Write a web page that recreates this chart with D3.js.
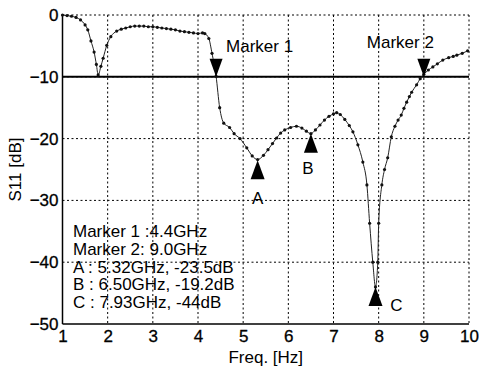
<!DOCTYPE html>
<html><head><meta charset="utf-8">
<script src="https://cdn.jsdelivr.net/npm/d3@7"></script>
<style>
body{margin:0;background:#fff;}
svg text{font-family:"Liberation Sans",Arial,sans-serif;fill:#000;}
</style></head>
<body><svg id="c" width="479" height="368"></svg>
<script>
const freq = [1.0,1.1,1.2,1.3,1.4,1.5,1.56,1.63,1.70,1.75,1.79,1.85,1.90,1.98,2.07,2.2,2.3,2.4,2.5,2.6,2.7,2.8,2.9,3.0,3.1,3.2,3.3,3.4,3.5,3.6,3.7,3.8,3.9,4.0,4.1,4.15,4.24,4.31,4.4,4.48,4.57,4.7,4.8,4.93,5.08,5.2,5.32,5.45,5.55,5.65,5.74,5.83,5.92,6.05,6.18,6.3,6.4,6.5,6.6,6.7,6.8,6.9,7.0,7.07,7.15,7.25,7.35,7.43,7.54,7.65,7.74,7.8,7.87,7.93,7.98,8.0,8.07,8.13,8.2,8.28,8.36,8.43,8.5,8.56,8.62,8.68,8.73,8.84,8.92,9.0,9.1,9.2,9.3,9.42,9.55,9.65,9.73,9.85,9.97];
const s11 = [0,-0.1,-0.2,-0.4,-0.8,-1.6,-2.4,-4.2,-6.0,-8.0,-9.7,-8.3,-7.0,-4.9,-3.5,-2.6,-2.3,-2.1,-1.9,-1.8,-1.8,-1.8,-1.9,-1.9,-2.0,-2.1,-2.2,-2.3,-2.4,-2.6,-2.7,-2.8,-2.9,-3.0,-2.9,-3.0,-3.8,-6.2,-9.9,-15.0,-17.5,-18.2,-19.2,-20.0,-21.5,-22.8,-23.4,-22.7,-21.8,-20.8,-19.9,-19.1,-18.6,-18.2,-18.0,-18.3,-18.8,-19.2,-18.6,-17.8,-17.0,-16.4,-16.0,-15.8,-16.1,-16.9,-17.9,-18.9,-21.0,-23.8,-27.5,-33.7,-40,-44,-40,-33.7,-27.5,-25,-23.1,-19.7,-18.0,-17.0,-16.2,-15.1,-14.1,-13.2,-12.5,-11.3,-10.3,-9.6,-8.9,-8.4,-7.9,-7.3,-6.9,-6.7,-6.5,-6.2,-5.8];
const xTicks = [1,2,3,4,5,6,7,8,9,10];
const yTicks = [0,-10,-20,-30,-40,-50];
const threshold = -10;
const markerDown = [{name:"Marker 1", f:4.4}, {name:"Marker 2", f:9.0}];
const markerUp = [{name:"A", f:5.32, v:-23.5}, {name:"B", f:6.50, v:-19.2}, {name:"C", f:7.93, v:-44}];
const infoLines = ["Marker 1 :4.4GHz","Marker 2: 9.0GHz","A : 5.32GHz, -23.5dB","B : 6.50GHz, -19.2dB","C : 7.93GHz, -44dB"];

const svg = d3.select("#c");
const x = d3.scaleLinear().domain([1,10]).range([62.5,469]);
const y = d3.scaleLinear().domain([0,-50]).range([15,324]);

// grid
const g = svg.append("g");
g.selectAll("line.vg").data(xTicks.slice(1)).join("line")
  .attr("x1",d=>x(d)).attr("x2",d=>x(d)).attr("y1",y(0)).attr("y2",y(-50))
  .attr("stroke","#000").attr("stroke-width",1).attr("stroke-dasharray","2,2.5");
g.selectAll("line.hg").data(yTicks.slice(0,-1)).join("line")
  .attr("x1",x(1)).attr("x2",x(10)).attr("y1",d=>y(d)).attr("y2",d=>y(d))
  .attr("stroke","#000").attr("stroke-width",1).attr("stroke-dasharray","2,2.5");

// axes
const fs = 17;
const xa = svg.append("g").attr("transform",`translate(0,${y(-50)})`)
  .call(d3.axisBottom(x).tickValues(xTicks).tickSize(0).tickPadding(6).tickFormat(d3.format("d")));
const ya = svg.append("g").attr("transform",`translate(${x(1)},0)`)
  .call(d3.axisLeft(y).tickValues(yTicks).tickSize(0).tickPadding(4).tickFormat(d3.format("d")));
[xa,ya].forEach(a=>{
  a.select(".domain").remove();
  a.selectAll("text").attr("font-size",fs).attr("font-family","Liberation Sans, Arial, sans-serif").attr("fill","#000")
    .attr("stroke","#000").attr("stroke-width",0.3);
});
svg.append("line").attr("x1",x(1)).attr("x2",x(10)).attr("y1",y(-50)).attr("y2",y(-50)).attr("stroke","#000").attr("stroke-width",1.5);
svg.append("line").attr("x1",x(1)).attr("x2",x(1)).attr("y1",y(0)).attr("y2",y(-50)).attr("stroke","#000").attr("stroke-width",1.5);

// threshold
svg.append("line").attr("x1",x(1)).attr("x2",x(10)).attr("y1",y(threshold)).attr("y2",y(threshold))
  .attr("stroke","#000").attr("stroke-width",2);

// curve
const data = freq.map((f,i)=>({f, v:s11[i]}));
svg.append("path").datum(data)
  .attr("d",d3.line().x(d=>x(d.f)).y(d=>y(d.v)).curve(d3.curveMonotoneX))
  .attr("fill","none").attr("stroke","#222").attr("stroke-width",1);
svg.selectAll("circle.pt").data(data).join("circle")
  .attr("cx",d=>x(d.f)).attr("cy",d=>y(d.v)).attr("r",1.6).attr("fill","#111");

// markers down
const mg = svg.append("g");
markerDown.forEach((m,i)=>{
  const cx = x(m.f), ty = y(threshold);
  mg.append("path").attr("d",`M${cx-6.5},${ty-18}L${cx+6.5},${ty-18}L${cx},${ty}Z`).attr("fill","#000");
});
svg.append("text").attr("x",x(4.4)+10).attr("y",52).attr("font-size",fs).text(markerDown[0].name);
svg.append("text").attr("x",x(9.0)-57).attr("y",48).attr("font-size",fs).text(markerDown[1].name);

// markers up
markerUp.forEach(m=>{
  const cx = x(m.f), ty = y(m.v);
  mg.append("path").attr("d",`M${cx-7},${ty+19}L${cx+7},${ty+19}L${cx},${ty}Z`).attr("fill","#000");
});
const lab = [{dx:0,dy:44,a:"middle"},{dx:-3,dy:40,a:"middle"},{dx:21,dy:24,a:"middle"}];
markerUp.forEach((m,i)=>{
  svg.append("text").attr("x",x(m.f)+lab[i].dx).attr("y",y(m.v)+lab[i].dy)
    .attr("text-anchor",lab[i].a).attr("font-size",fs).text(m.name);
});

// info box
svg.append("g").selectAll("text").data(infoLines).join("text")
  .attr("x",73).attr("y",(d,i)=>237+i*17.8).attr("font-size",fs).text(d=>d);

// axis titles
svg.append("text").attr("x",(x(1)+x(10))/2).attr("y",363).attr("text-anchor","middle").attr("font-size",fs).text("Freq. [Hz]");
svg.append("text").attr("transform",`translate(21,${(y(0)+y(-50))/2}) rotate(-90)`).attr("text-anchor","middle").attr("font-size",fs).text("S11 [dB]");
</script></body></html>
